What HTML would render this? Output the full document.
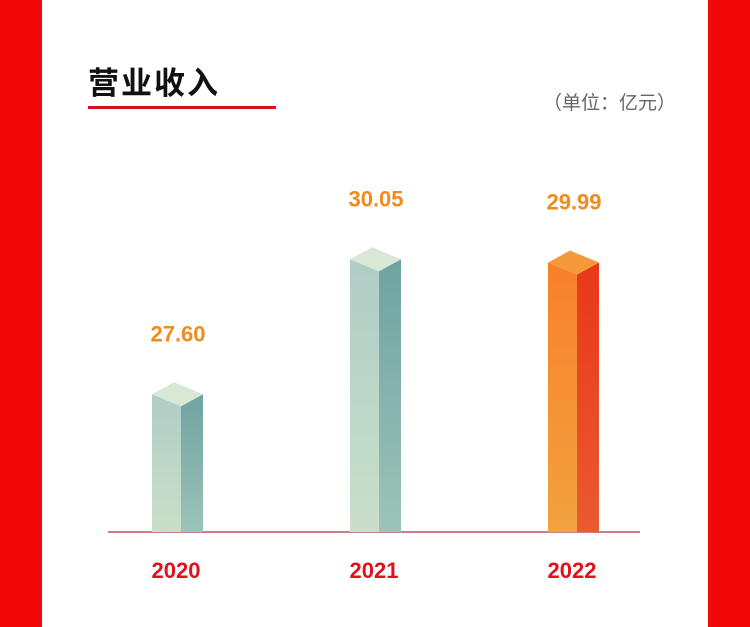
<!DOCTYPE html>
<html><head><meta charset="utf-8"><style>
body{margin:0;width:750px;height:627px;background:#f30808;position:relative;overflow:hidden;font-family:"Liberation Sans","Noto Sans CJK SC",sans-serif}
#panel{position:absolute;left:42px;top:0;width:666px;height:627px;background:#fff}
#title{position:absolute;left:88px;top:58px;font-size:31px;font-weight:bold;color:#111;letter-spacing:2px}
#uline{position:absolute;left:88px;top:106px;width:188px;height:3px;background:#d9101c}
#unit{position:absolute;left:543px;top:88px;font-size:19px;color:#666}
</style></head><body>
<div id="panel"></div>
<div id="title">营业收入</div>
<div id="uline"></div>
<div id="unit">（单位：亿元）</div>
<svg id="chart" width="750" height="627" style="position:absolute;left:0;top:0">
<defs>
<linearGradient id="gf" x1="0" y1="0" x2="0" y2="1"><stop offset="0" stop-color="#b0cdc6"/><stop offset="1" stop-color="#c9dfc9"/></linearGradient>
<linearGradient id="gs" x1="0" y1="0" x2="0" y2="1"><stop offset="0" stop-color="#6fa3a1"/><stop offset="1" stop-color="#9cc3b8"/></linearGradient>
<linearGradient id="of" x1="0" y1="0" x2="0" y2="1"><stop offset="0" stop-color="#f8802a"/><stop offset="1" stop-color="#f2a23e"/></linearGradient>
<linearGradient id="os" x1="0" y1="0" x2="0" y2="1"><stop offset="0" stop-color="#e8381a"/><stop offset="1" stop-color="#ea5a30"/></linearGradient>
</defs>
</svg>
<script>
const categories=["2020","2021","2022"];
const values=[27.60,30.05,29.99];
const labels=["27.60","30.05","29.99"];
const baseY=532, vMin=25.1, pxPer=55.1;
const y=v=>baseY-(v-vMin)*pxPer;
const xs=[152,350,548];
const svg=document.getElementById('chart');
const NS="http://www.w3.org/2000/svg";
function mk(t,a){const e=document.createElementNS(NS,t);for(const k in a)e.setAttribute(k,a[k]);svg.appendChild(e);return e;}
const base=mk('line',{x1:108,y1:baseY,x2:640,y2:baseY,stroke:'#b0323a','stroke-width':1.2});


categories.forEach((c,i)=>{
 const x=xs[i],t=y(values[i]),fw=29,sw=22,d=12;
 const orange=i===2;
 const g=document.createElementNS(NS,'g');svg.appendChild(g);
 
 
 const add=(tag,a)=>{const e=document.createElementNS(NS,tag);for(const k in a)e.setAttribute(k,a[k]);g.appendChild(e);return e;};
 add('polygon',{points:`${x},${t} ${x+fw},${t+d} ${x+fw},${baseY} ${x},${baseY}`,fill:orange?'url(#of)':'url(#gf)'});
 add('polygon',{points:`${x+fw},${t+d} ${x+fw+sw},${t} ${x+fw+sw},${baseY} ${x+fw},${baseY}`,fill:orange?'url(#os)':'url(#gs)'});
 add('polygon',{points:`${x},${t} ${x+22},${t-12} ${x+fw+sw},${t} ${x+fw},${t+d}`,fill:orange?'#f59a3a':'#d8e8d4'});
 const v=mk('text',{x:x+26,y:t-53,'text-anchor':'middle','font-size':22,'font-weight':'bold',fill:'#f28a1c'});
 v.textContent=labels[i];
 
 
 const l=mk('text',{x:x+24,y:578,'text-anchor':'middle','font-size':22,'font-weight':'bold',fill:'#e3101c'});
 l.textContent=c;
 
 
});
</script>
</body></html>
